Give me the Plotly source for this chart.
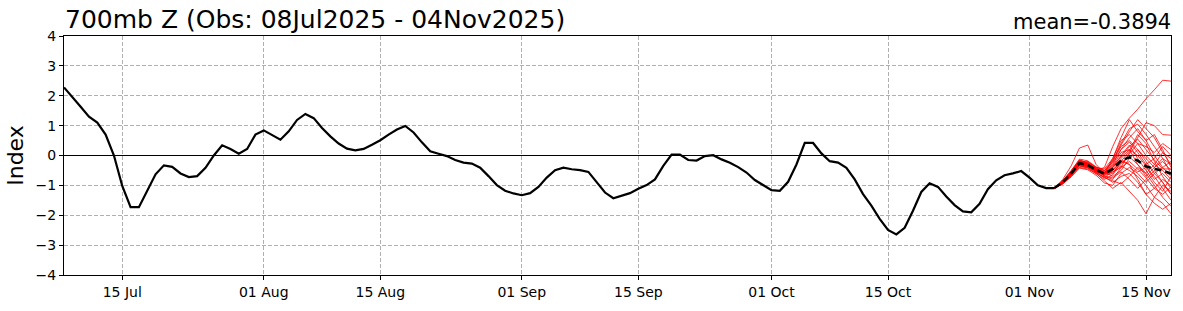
import pandas as pd
import plotly.graph_objects as go

# ---------------- data ----------------
obs_start = "2025-07-08"
obs_values = [
    2.28, 1.97, 1.63, 1.30, 1.10, 0.70, 0.00, -1.02, -1.73, -1.73,
    -1.18, -0.63, -0.33, -0.38, -0.60, -0.72, -0.69, -0.41, 0.00, 0.34,
    0.22, 0.06, 0.22, 0.70, 0.84, 0.69, 0.53, 0.81, 1.19, 1.39,
    1.25, 0.92, 0.64, 0.40, 0.23, 0.17, 0.22, 0.36, 0.51, 0.70,
    0.87, 0.99, 0.77, 0.44, 0.14, 0.06, -0.02, -0.15, -0.24, -0.27,
    -0.41, -0.69, -0.99, -1.18, -1.27, -1.33, -1.26, -1.05, -0.74, -0.49,
    -0.41, -0.46, -0.49, -0.55, -0.91, -1.24, -1.43, -1.35, -1.26, -1.11,
    -0.99, -0.80, -0.35, 0.03, 0.03, -0.15, -0.17, -0.02, 0.01, -0.13,
    -0.24, -0.39, -0.57, -0.82, -0.99, -1.16, -1.18, -0.88, -0.30, 0.42,
    0.42, 0.07, -0.19, -0.24, -0.41, -0.80, -1.29, -1.68, -2.12, -2.49,
    -2.64, -2.42, -1.85, -1.22, -0.93, -1.05, -1.37, -1.66, -1.87, -1.90,
    -1.62, -1.13, -0.83, -0.66, -0.60, -0.52, -0.74, -1.00, -1.09, -1.09,
]

fc_start = "2025-11-04"
fc_mean = [-1.09, -0.89, -0.61, -0.26, -0.32, -0.48, -0.61, -0.45, -0.17,
           -0.06, -0.17, -0.36, -0.45, -0.50, -0.61]

members = [
    [-1.09, -0.85, -0.50, -0.15, -0.25, -0.50, -0.40, 0.30, 0.90, 1.25, 1.55, 1.90, 2.20, 2.52, 2.49],
    [-1.09, -0.80, -0.35, 0.25, 0.35, -0.30, -0.60, -0.10, 0.60, 1.20, 0.80, 0.50, 0.70, 0.20, -0.40],
    [-1.09, -0.90, -0.60, -0.25, -0.35, -0.45, -0.70, -0.80, -0.40, 0.10, 0.60, 1.10, 1.00, 0.70, 0.68],
    [-1.09, -0.95, -0.70, -0.40, -0.45, -0.60, -0.85, -1.10, -0.90, -1.20, -1.50, -1.95, -1.40, -1.60, -1.95],
    [-1.09, -0.85, -0.55, -0.20, -0.30, -0.55, -0.75, -0.50, -0.20, -0.30, -0.80, -1.30, -1.10, -0.80, -1.00],
    [-1.09, -0.90, -0.65, -0.30, -0.20, -0.40, -0.50, -0.20, 0.30, 0.50, 0.20, -0.20, -0.60, -0.90, -1.30],
    [-1.09, -0.88, -0.60, -0.35, -0.40, -0.50, -0.55, -0.70, -0.50, -0.10, 0.20, -0.10, -0.40, -0.20, -0.50],
    [-1.09, -0.92, -0.62, -0.30, -0.35, -0.55, -0.65, -0.40, 0.00, 0.35, -0.10, -0.50, -0.90, -1.20, -0.70],
    [-1.09, -0.86, -0.58, -0.22, -0.28, -0.45, -0.60, -0.55, -0.30, 0.05, 0.40, 0.30, 0.10, 0.40, 0.20],
    [-1.09, -0.94, -0.66, -0.32, -0.38, -0.58, -0.72, -0.90, -0.70, -0.60, -0.90, -1.30, -1.60, -1.80, -1.60],
    [-1.09, -0.89, -0.57, -0.18, -0.22, -0.40, -0.45, -0.10, 0.50, 0.70, 0.40, 0.00, -0.30, -0.50, -0.80],
    [-1.09, -0.91, -0.64, -0.28, -0.34, -0.50, -0.62, -0.35, 0.10, 0.20, -0.30, -0.70, -0.40, -0.10, -0.30],
    [-1.09, -0.87, -0.59, -0.24, -0.30, -0.52, -0.66, -0.60, -0.35, -0.50, -0.70, -1.00, -1.40, -1.00, -1.20],
    [-1.09, -0.93, -0.68, -0.35, -0.42, -0.62, -0.80, -0.65, -0.20, 0.15, 0.70, 0.40, -0.20, -0.70, -1.10],
    [-1.09, -0.84, -0.52, -0.12, -0.18, -0.38, -0.50, -0.25, 0.20, 0.60, 0.90, 0.50, 0.00, -0.40, -0.20],
    [-1.09, -0.90, -0.62, -0.27, -0.33, -0.48, -0.58, -0.45, -0.15, -0.30, -0.55, -0.40, -0.70, -1.10, -1.50],
    [-1.09, -0.88, -0.56, -0.20, -0.26, -0.44, -0.56, -0.30, 0.20, 0.45, 0.10, -0.30, -0.10, 0.30, 0.00],
    [-1.09, -0.95, -0.72, -0.42, -0.48, -0.66, -0.92, -1.00, -0.60, -0.40, -0.60, -0.90, -0.60, -0.40, -0.70],
    [-1.09, -0.86, -0.54, -0.19, -0.27, -0.47, -0.58, -0.20, 0.40, 0.90, 1.05, 0.70, 0.30, -0.10, -0.60],
    [-1.09, -0.91, -0.63, -0.29, -0.37, -0.53, -0.68, -0.75, -0.55, -0.80, -1.10, -0.80, -0.50, -0.90, -1.30],
    [-1.09, -0.89, -0.60, -0.26, -0.31, -0.49, -0.60, -0.40, -0.10, 0.20, 0.00, -0.35, -0.80, -0.60, -0.90],
    [-1.09, -0.87, -0.58, -0.23, -0.29, -0.46, -0.57, -0.50, -0.25, -0.05, -0.30, -0.60, -0.30, 0.10, -0.10],
    [-1.09, -0.93, -0.67, -0.33, -0.40, -0.57, -0.74, -0.85, -0.95, -0.70, -0.40, -0.60, -1.00, -1.40, -1.70],
    [-1.09, -0.85, -0.53, -0.16, -0.24, -0.42, -0.52, -0.15, 0.35, 0.80, 1.20, 0.90, 0.60, 0.10, -0.30],
    [-1.09, -0.90, -0.61, -0.27, -0.32, -0.51, -0.63, -0.55, -0.40, -0.20, -0.45, -0.75, -1.10, -1.30, -1.05],
    [-1.09, -0.88, -0.59, -0.24, -0.29, -0.47, -0.59, -0.35, -0.05, 0.30, 0.55, 0.20, -0.15, -0.45, -0.45],
]

x_tick_dates = ["2025-07-15", "2025-08-01", "2025-08-15", "2025-09-01", "2025-09-15",
                "2025-10-01", "2025-10-15", "2025-11-01", "2025-11-15"]
x_tick_labels = ["15 Jul", "01 Aug", "15 Aug", "01 Sep", "15 Sep",
                 "01 Oct", "15 Oct", "01 Nov", "15 Nov"]
y_tick_vals = [-4, -3, -2, -1, 0, 1, 2, 3, 4]
y_tick_labels = ["\u22124", "\u22123", "\u22122", "\u22121", "0", "1", "2", "3", "4"]

title_text = "700mb Z (Obs: 08Jul2025 - 04Nov2025)"
mean_text = "mean=-0.3894"
y_label = "Index"
x_range = ["2025-07-08", "2025-11-18"]
y_range = [-4, 4]

# ---------------- figure ----------------
FONT = "DejaVu Sans"
obs_dates = pd.date_range(obs_start, periods=len(obs_values), freq="D")
fc_dates = pd.date_range(fc_start, periods=len(fc_mean), freq="D")

fig = go.Figure()
for m in members:
    fig.add_trace(go.Scatter(x=fc_dates, y=m, mode="lines",
                             line=dict(color="#ff0000", width=0.8),
                             showlegend=False, hoverinfo="skip"))
fig.add_trace(go.Scatter(x=obs_dates, y=obs_values, mode="lines",
                         line=dict(color="black", width=2.2),
                         showlegend=False))
fig.add_trace(go.Scatter(x=fc_dates, y=fc_mean, mode="lines",
                         line=dict(color="black", width=2.6, dash="7px,4px"),
                         showlegend=False))

fig.update_layout(
    width=1183, height=311,
    margin=dict(l=64, r=11, t=36, b=34),
    paper_bgcolor="white", plot_bgcolor="white",
    font=dict(family=FONT, color="black", size=14),
    showlegend=False,
    annotations=[
        dict(text=title_text, xref="paper", yref="paper", x=0, y=1,
             xanchor="left", yanchor="bottom", showarrow=False, yshift=0,
             xshift=-1, font=dict(family=FONT, size=25, color="black")),
        dict(text=mean_text, xref="paper", yref="paper", x=1, y=1,
             xanchor="right", yanchor="bottom", showarrow=False, yshift=0,
             xshift=2, font=dict(family=FONT, size=21, color="black")),
    ],
)
fig.update_xaxes(
    type="date", range=x_range, tickmode="array",
    tickvals=x_tick_dates, ticktext=x_tick_labels,
    showgrid=True, gridcolor="#b0b0b0", griddash="4px,2px", gridwidth=0.8,
    showline=True, mirror=True, linecolor="black", linewidth=1,
    ticks="outside", ticklen=4, tickcolor="black",
    tickfont=dict(family=FONT, size=14), zeroline=False,
)
fig.update_yaxes(
    range=y_range, tickmode="array", tickvals=y_tick_vals, ticktext=y_tick_labels,
    showgrid=True, gridcolor="#b0b0b0", griddash="4px,2px", gridwidth=0.8,
    showline=True, mirror=True, linecolor="black", linewidth=1,
    ticks="outside", ticklen=4, tickcolor="black",
    tickfont=dict(family=FONT, size=14),
    zeroline=True, zerolinecolor="black", zerolinewidth=0.8,
    title=dict(text=y_label, font=dict(family=FONT, size=22), standoff=5),
)

fig.write_html("out.html")
